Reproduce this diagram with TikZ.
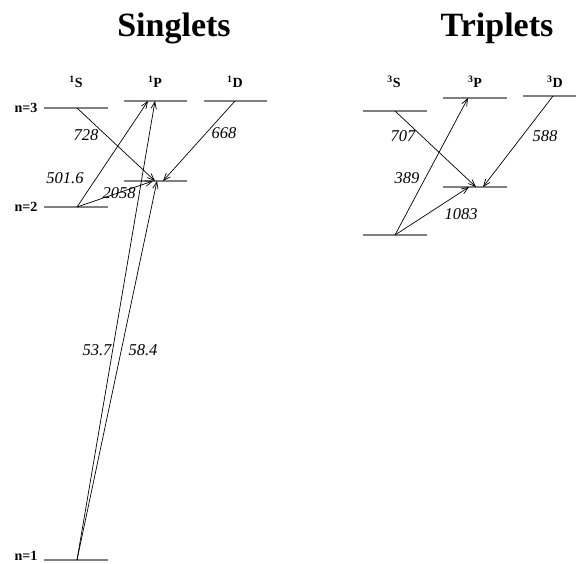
\documentclass[tikz,border=0pt]{standalone}
\usepackage{fontspec}
\setmainfont{Liberation Serif}
\usetikzlibrary{arrows.meta}
\tikzset{
  level/.style={draw=black!50, line width=1.6pt},
  trans/.style={draw=black, line width=0.7pt, -{Straight Barb[length=7pt,width=5.5pt]}},
  wl/.style={font=\fontsize{16.5}{18}\selectfont\itshape, inner sep=0pt},
  term/.style={font=\fontsize{14}{15}\selectfont\bfseries, inner sep=0pt},
  nlab/.style={font=\fontsize{14}{15}\selectfont\bfseries, inner sep=0pt},
  title/.style={font=\fontsize{34}{36}\selectfont\bfseries, inner sep=0pt, anchor=base}
}
\begin{document}
\begin{tikzpicture}[x=1pt,y=-1pt]
\useasboundingbox (0,0) rectangle (576,564);
\fill[white] (0,0) rectangle (576,564);
% titles
\node[title] (tS) at (174,37) {Singlets};
\node[title] (tT) at (497,37) {Triplets};
% term headers
\node[term] (h1S) at (76,82) {\textsuperscript{1}S};
\node[term] (h1P) at (155,82) {\textsuperscript{1}P};
\node[term] (h1D) at (235,82) {\textsuperscript{1}D};
\node[term] (h3S) at (394,82) {\textsuperscript{3}S};
\node[term] (h3P) at (475,82) {\textsuperscript{3}P};
\node[term] (h3D) at (555,82) {\textsuperscript{3}D};
% n labels
\node[nlab] (n3) at (26,108) {n=3};
\node[nlab] (n2) at (26,207) {n=2};
\node[nlab] (n1) at (26,556) {n=1};
% level lines
\coordinate (a1) at (44,108); \coordinate (b1) at (108,108);
\coordinate (a2) at (44,207); \coordinate (b2) at (108,207);
\coordinate (a3) at (44,560); \coordinate (b3) at (108,560);
\coordinate (a4) at (124,101); \coordinate (b4) at (187,101);
\coordinate (a5) at (124,181); \coordinate (b5) at (187,181);
\coordinate (a6) at (204,101); \coordinate (b6) at (267,101);
\coordinate (a7) at (363,111); \coordinate (b7) at (427,111);
\coordinate (a8) at (363,235); \coordinate (b8) at (427,235);
\coordinate (a9) at (443,98); \coordinate (b9) at (507,98);
\coordinate (a10) at (443,187); \coordinate (b10) at (507,187);
\coordinate (a11) at (523,96); \coordinate (b11) at (576,96);
\foreach \i in {1,...,11} { \draw[level] (a\i) -- (b\i); }
% transition endpoints
\coordinate (s3) at (77,108);
\coordinate (s2) at (77,207);
\coordinate (s1) at (77,560);
\coordinate (p3a) at (148,101);
\coordinate (p3b) at (155,101);
\coordinate (p2a) at (153,181);
\coordinate (p2b) at (155,181);
\coordinate (p2c) at (157,181);
\coordinate (p2d) at (163,181);
\coordinate (d3) at (235,101);
\coordinate (ts2) at (395,111);
\coordinate (ts1) at (395,235);
\coordinate (tp3) at (468,98);
\coordinate (tp2a) at (469,187);
\coordinate (tp2b) at (476,187);
\coordinate (tp2c) at (483,187);
\coordinate (td) at (553,96);
% singlet transitions
\draw[trans] (s3) -- (p2b);
\draw[trans] (s2) -- (p3a);
\draw[trans] (s2) -- (p2a);
\draw[trans] (d3) -- (p2d);
\draw[trans] (s1) -- (p3b);
\draw[trans] (s1) -- (p2c);
% triplet transitions
\draw[trans] (ts2) -- (tp2b);
\draw[trans] (ts1) -- (tp3);
\draw[trans] (ts1) -- (tp2a);
\draw[trans] (td) -- (tp2c);
% wavelength labels
\node[wl] (l728) at (86,135) {728};
\node[wl] (l5016) at (65,178) {501.6};
\node[wl] (l2058) at (119,193) {2058};
\node[wl] (l668) at (224,133) {668};
\node[wl] (l537) at (97,350) {53.7};
\node[wl] (l584) at (143,350) {58.4};
\node[wl] (l707) at (403,136) {707};
\node[wl] (l389) at (407,178) {389};
\node[wl] (l1083) at (461,214) {1083};
\node[wl] (l588) at (545,136) {588};
\end{tikzpicture}
\end{document}
